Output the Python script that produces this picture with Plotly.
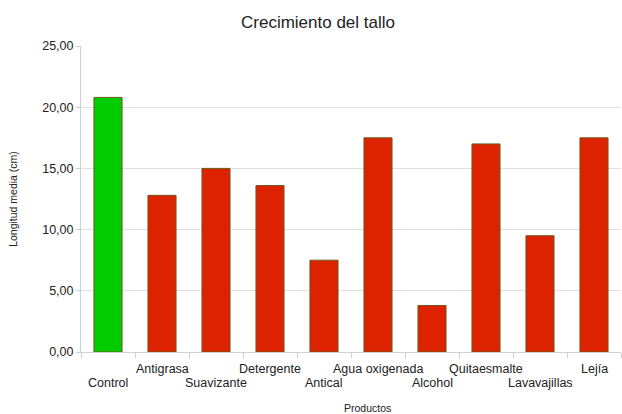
import plotly.graph_objects as go

categories = ["Control", "Antigrasa", "Suavizante", "Detergente", "Antical",
              "Agua oxigenada", "Alcohol", "Quitaesmalte", "Lavavajillas", "Lejía"]
values = [20.8, 12.8, 15.0, 13.6, 7.5, 17.5, 3.8, 17.0, 9.5, 17.5]
colors = ["#00cc00"] + ["#dd2200"] * 9

fig = go.Figure(go.Bar(
    x=categories, y=values,
    marker=dict(color=colors, line=dict(color="#6b5a1e", width=1)),
    width=0.52,
))

# staggered category labels (two rows)
for i, c in enumerate(categories):
    fig.add_annotation(
        x=c, xref="x", y=0, yref="paper", yanchor="middle", xanchor="center",
        yshift=-31 if i % 2 == 0 else -17, text=c, showarrow=False,
        font=dict(size=12.5, color="#222"),
    )

# x-axis title
fig.add_annotation(
    x=330 / 622, xref="paper", y=0, yref="paper", yanchor="middle", xanchor="center",
    yshift=-56, text="Productos", showarrow=False, font=dict(size=10.5, color="#222"),
)

fig.update_layout(
    width=622, height=414,
    margin=dict(l=81, r=1, t=46, b=62),
    paper_bgcolor="white", plot_bgcolor="white",
    separators=",.",
    font=dict(family="Liberation Sans, Arial, sans-serif", color="#222", size=12),
    title=dict(text="Crecimiento del tallo", x=318 / 622, xanchor="center", y=1 - 22 / 414, yanchor="middle",
               font=dict(size=17, color="#222")),
    showlegend=False,
)
fig.update_xaxes(
    tickmode="array", tickvals=categories, showticklabels=False,
    tickson="boundaries", ticks="outside", ticklen=5, tickcolor="#d0d0d0",
    showline=True, linecolor="#d0d0d0", showgrid=False,
)
fig.update_yaxes(
    range=[0, 25], dtick=5, tickformat=".2f",
    ticks="outside", ticklen=4, tickcolor="#d0d0d0",
    showline=True, linecolor="#d0d0d0",
    showgrid=True, gridcolor="#e0e0e0", zeroline=False,
    tickfont=dict(size=12.5),
    title=dict(text="Longitud media (cm)", font=dict(size=10.5), standoff=22),
)
fig.write_html("out.html")
